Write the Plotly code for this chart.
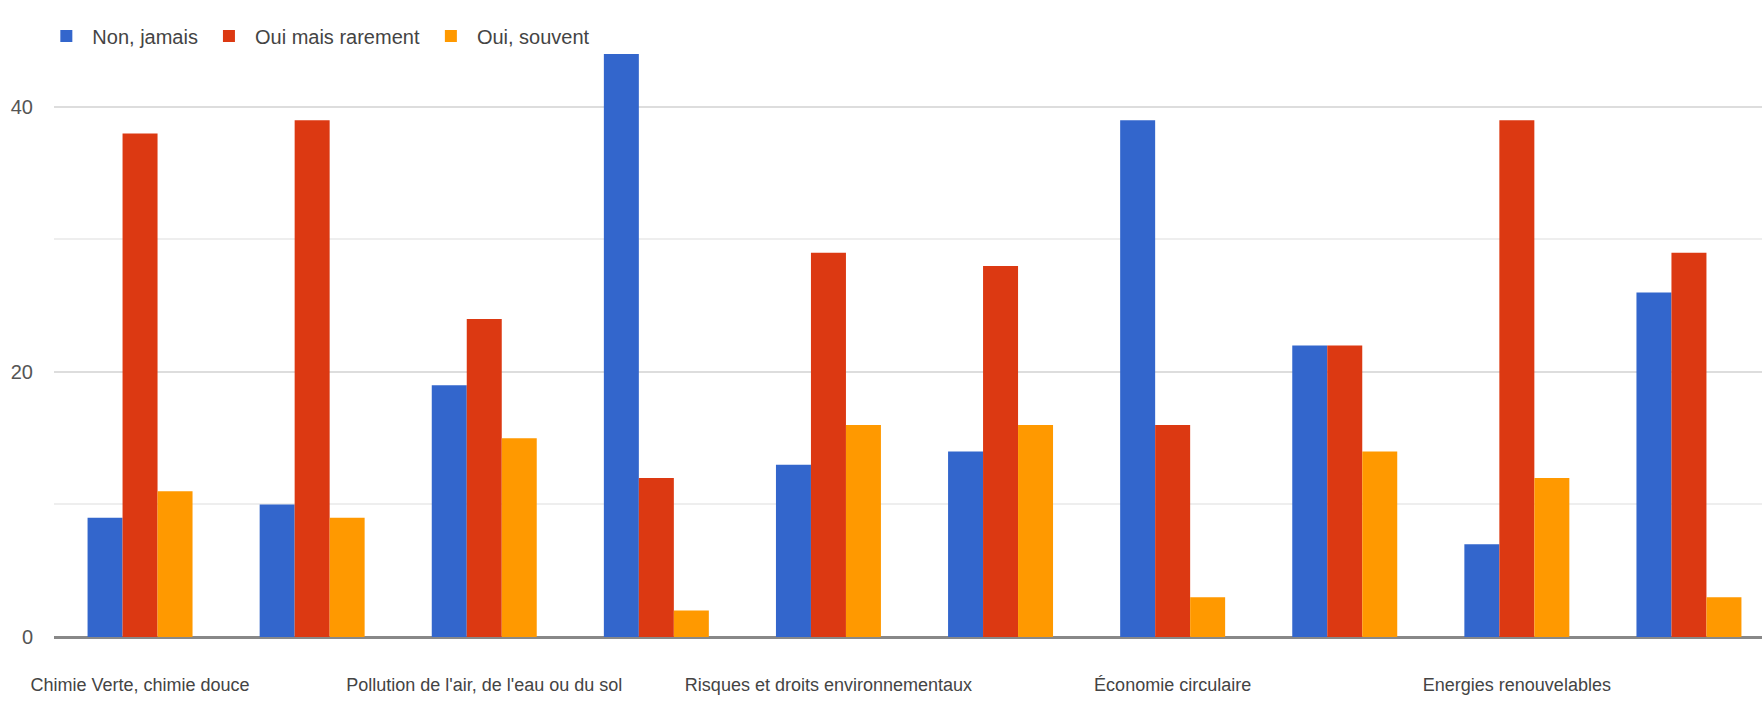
import plotly.graph_objects as go

# Topics surveyed (only every other label is printed on the axis)
topic_labels = [
    "Chimie Verte, chimie douce",
    "Pollution de l'air, de l'eau ou du sol",
    "Risques et droits environnementaux",
    "Économie circulaire",
    "Energies renouvelables",
]
topic_positions = [0, 2, 4, 6, 8]
x_index = [0, 1, 2, 3, 4, 5, 6, 7, 8, 9]

non_jamais = [9, 10, 19, 44, 13, 14, 39, 22, 7, 26]
oui_rarement = [38, 39, 24, 12, 29, 28, 16, 22, 39, 29]
oui_souvent = [11, 9, 15, 2, 16, 16, 3, 14, 12, 3]

series = [
    ("Non, jamais", non_jamais, "#3366cc"),
    ("Oui mais rarement", oui_rarement, "#dc3912"),
    ("Oui, souvent", oui_souvent, "#ff9900"),
]

W, H = 1762, 706
left, right, top, bottom = 54, 0, 40, 69
plot_w = W - left - right
cat_w = 172.1  # pixel width of one category slot

fig = go.Figure()
for name, vals, color in series:
    fig.add_trace(go.Bar(
        x=x_index, y=vals, name=name,
        marker=dict(color=color, line=dict(width=0)),
    ))

font_family = "Liberation Sans, Arial, sans-serif"

fig.update_layout(
    width=W, height=H,
    margin=dict(l=left, r=right, t=top, b=bottom),
    paper_bgcolor="white", plot_bgcolor="white",
    barmode="group", bargap=0.39, bargroupgap=0,
    font=dict(family=font_family, color="#444444", size=18),
    legend=dict(
        orientation="h", x=-0.008, xanchor="left",
        y=(H - bottom - 36) / (H - bottom - top), yanchor="middle",
        font=dict(size=20, color="#444444"),
        bgcolor="rgba(0,0,0,0)",
        itemwidth=42, tracegroupgap=0,
    ),
    showlegend=True,
)

fig.update_xaxes(
    range=[-0.5, -0.5 + plot_w / cat_w],
    tickmode="array", tickvals=topic_positions, ticktext=topic_labels,
    tickangle=0, automargin=False,
    showgrid=False, zeroline=False, showline=False,
    ticks="", ticklabelstandoff=35,
    tickfont=dict(size=18, color="#444444"),
)

fig.update_yaxes(
    range=[0, 45.05], automargin=False,
    tickmode="linear", tick0=0, dtick=20,
    showgrid=True, gridcolor="#dddddd", gridwidth=2,
    minor=dict(dtick=10, showgrid=True, gridcolor="#eeeeee", gridwidth=2),
    zeroline=True, zerolinecolor="#888888", zerolinewidth=3,
    showline=False, ticks="", ticklabelstandoff=20,
    tickfont=dict(size=20, color="#555555"),
)

fig.write_html("out.html")
